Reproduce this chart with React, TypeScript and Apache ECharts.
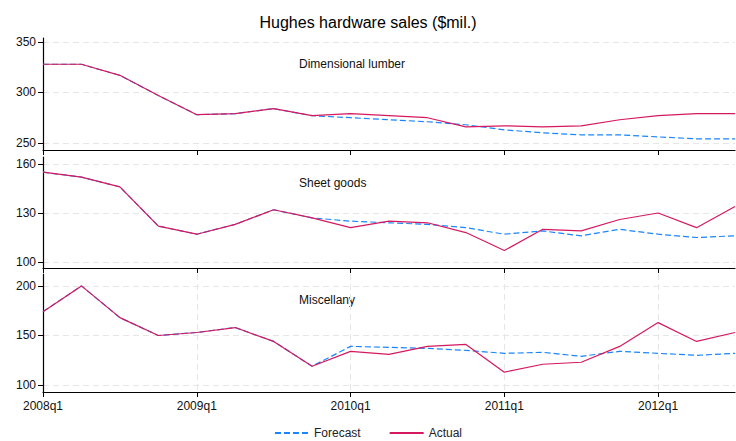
import { useEffect, useRef } from "react";
import * as echarts from "echarts";

const quarters = [
  "2008q1", "2008q2", "2008q3", "2008q4", "2009q1", "2009q2", "2009q3", "2009q4",
  "2010q1", "2010q2", "2010q3", "2010q4", "2011q1", "2011q2", "2011q3", "2011q4",
  "2012q1", "2012q2", "2012q3",
];

const lumberActual = [328, 328, 317, 297, 278, 279, 284, 277, 279, 277, 275, 266, 267, 266, 267, 273, 277, 279, 279];
const lumberForecast = [328, 328, 317, 297, 278, 279, 284, 277, 275, 273, 271, 268, 263, 260, 258, 258, 256, 254, 254];
const sheetActual = [155, 152, 146, 122, 117, 123, 132, 127, 121, 125, 124, 118, 107, 120, 119, 126, 130, 121, 134];
const sheetForecast = [155, 152, 146, 122, 117, 123, 132, 127, 125, 124, 123, 121, 117, 119, 116, 120, 117, 115, 116];
const miscActual = [174, 200, 168, 150, 153, 158, 144, 119, 134, 131, 139, 141, 113, 121, 123, 139, 163, 144, 153];
const miscForecast = [174, 200, 168, 150, 153, 158, 144, 119, 139, 138, 137, 135, 132, 133, 129, 134, 132, 130, 132];

const panels = [
  { name: "Dimensional lumber", actual: lumberActual, forecast: lumberForecast, top: 38, height: 112, min: 243, max: 354, ticks: [250, 300, 350] },
  { name: "Sheet goods", actual: sheetActual, forecast: sheetForecast, top: 157, height: 111, min: 96.3, max: 164.3, ticks: [100, 130, 160] },
  { name: "Miscellany", actual: miscActual, forecast: miscForecast, top: 274, height: 118, min: 93, max: 212, ticks: [100, 150, 200] },
];

const FONT = "Liberation Sans, Arial, sans-serif";

export default function App() {
  const chartRef = useRef<HTMLDivElement>(null);

  useEffect(() => {
    if (!chartRef.current) return;
    const chart = echarts.init(chartRef.current, null, { renderer: "svg" });
    const last = panels.length - 1;

    const option = {
      animation: false,
      textStyle: { fontFamily: FONT },
      title: {
        text: "Hughes hardware sales ($mil.)",
        left: "center",
        top: 9,
        textStyle: { fontSize: 16, fontWeight: "normal", color: "#000", fontFamily: FONT },
      },
      legend: {
        bottom: -3,
        left: "center",
        itemWidth: 34,
        itemGap: 28,
        itemStyle: { opacity: 0 },
        textStyle: { fontSize: 12, color: "#222", fontFamily: FONT },
        data: ["Forecast", "Actual"],
      },
      graphic: panels.map((p) => ({
        type: "text",
        left: 299,
        top: p.top + 20,
        style: { text: p.name, fontSize: 12, fill: "#111", fontFamily: FONT },
      })),
      grid: panels.map((p) => ({ left: 43, right: 1, top: p.top, height: p.height })),
      xAxis: panels.map((_, i) => ({
        type: "category",
        gridIndex: i,
        data: quarters,
        boundaryGap: false,
        axisLine: { lineStyle: { color: "#000", width: 1.2 } },
        axisTick: { show: true, interval: 3, lineStyle: { color: "#000" }, length: 5 },
        axisLabel: { show: i === last, interval: 3, color: "#111", fontSize: 12, margin: 8, fontFamily: FONT },
        splitLine: { show: i === last, interval: 3, lineStyle: { color: "#e6e6e6", type: [6, 4] } },
      })),
      yAxis: panels.map((p, i) => ({
        type: "value",
        gridIndex: i,
        min: p.min,
        max: p.max,
        axisLine: { show: true, lineStyle: { color: "#000", width: 1.2 } },
        axisTick: { show: true, customValues: p.ticks, length: 5, lineStyle: { color: "#000" } },
        axisLabel: { customValues: p.ticks, color: "#111", fontSize: 12, margin: 7, fontFamily: FONT },
        splitLine: { show: true, lineStyle: { color: "#e6e6e6", type: [6, 4] } },
      })),
      series: panels.flatMap((p, i) => [
        {
          name: "Forecast",
          type: "line",
          xAxisIndex: i,
          yAxisIndex: i,
          data: p.forecast,
          symbol: "none",
          lineStyle: { color: "#1a85ff", width: 1.2, type: [6, 3] },
          itemStyle: { color: "#1a85ff" },
        },
        {
          name: "Actual",
          type: "line",
          xAxisIndex: i,
          yAxisIndex: i,
          data: p.actual,
          symbol: "none",
          lineStyle: { color: "#d5195f", width: 1.2 },
          itemStyle: { color: "#d5195f" },
        },
      ]),
    };

    chart.setOption(option);
    return () => chart.dispose();
  }, []);

  return <div ref={chartRef} style={{ position: "absolute", left: 0, top: 0, width: 736, height: 441 }} />;
}
